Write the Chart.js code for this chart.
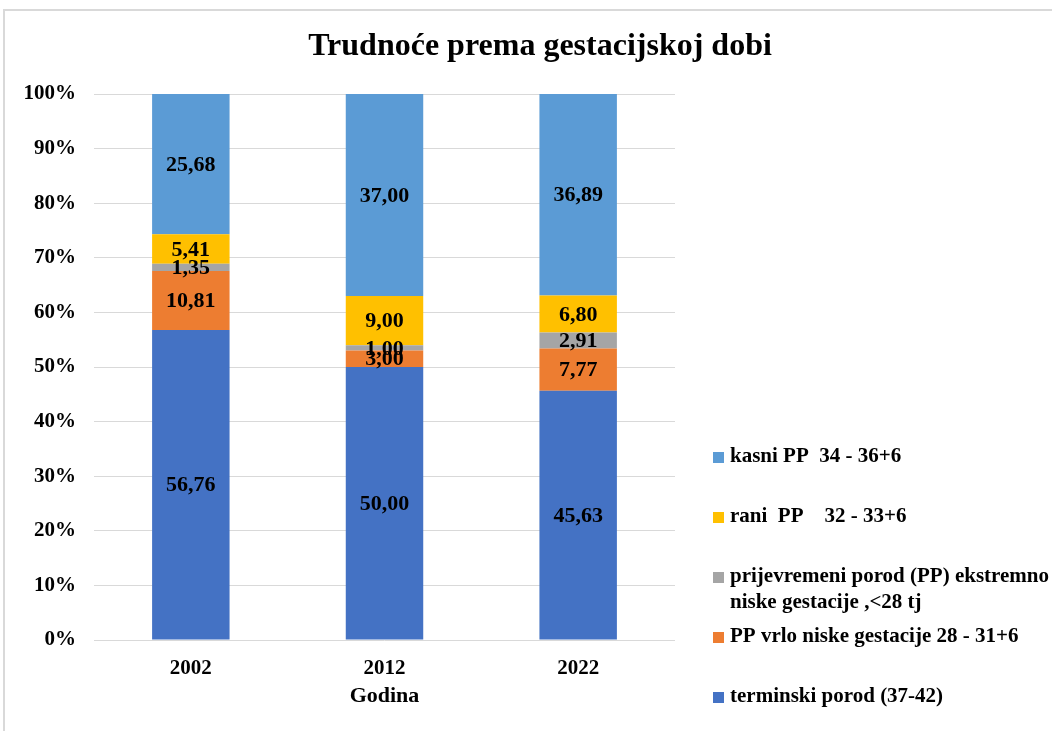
<!DOCTYPE html>
<html>
<head>
<meta charset="utf-8">
<script src="https://cdn.jsdelivr.net/npm/chart.js@4.4.4/dist/chart.umd.min.js"></script>
<style>
  html, body { margin: 0; padding: 0; background: #fff; }
  #wrap { position: relative; width: 1052px; height: 731px; }
</style>
</head>
<body>
<div id="wrap"><canvas id="chart" width="1052" height="731"></canvas></div>
<script>
// Data
const years = ['2002', '2012', '2022'];
const terminski = [56.76, 50.00, 45.63];
const vrloNiske = [10.81, 3.00, 7.77];
const ekstremno = [1.35, 1.00, 2.91];
const rani = [5.41, 9.00, 6.80];
const kasni = [25.68, 37.00, 36.89];
const yTicks = [0, 10, 20, 30, 40, 50, 60, 70, 80, 90, 100];

const FONT = '"Liberation Serif", "Times New Roman", serif';

// Stack order bottom -> top; legend lists them top -> bottom
const series = [
    { label: ['terminski porod (37-42)'], data: terminski, color: '#4472C4' },
    { label: ['PP vrlo niske gestacije 28 - 31+6'], data: vrloNiske, color: '#ED7D31' },
    { label: ['prijevremeni porod (PP) ekstremno', 'niske gestacije ,<28 tj'], data: ekstremno, color: '#A5A5A5' },
    { label: ['rani  PP    32 - 33+6'], data: rani, color: '#FFC000' },
    { label: ['kasni PP  34 - 36+6'], data: kasni, color: '#5B9BD5' }
];

const fmt = v => v.toFixed(2).replace('.', ',');

// Title, frame, value labels and the side legend
const decor = {
    id: 'decor',
    beforeDraw(chart) {
        const ctx = chart.ctx;
        ctx.save();
        ctx.strokeStyle = '#D9D9D9';
        ctx.lineWidth = 2;
        ctx.strokeRect(4, 10, 1100, 800);
        ctx.restore();
    },
    afterDatasetsDraw(chart) {
        const ctx = chart.ctx;
        ctx.save();
        ctx.font = 'bold 22px ' + FONT;
        ctx.fillStyle = '#000';
        ctx.textAlign = 'center';
        ctx.textBaseline = 'middle';
        chart.data.datasets.forEach((ds, i) => {
            chart.getDatasetMeta(i).data.forEach((bar, j) => {
                const mid = (bar.y + bar.base) / 2;
                ctx.fillText(fmt(ds.data[j]), bar.x, mid + 1);
            });
        });
        ctx.restore();
    },
    afterDraw(chart) {
        const ctx = chart.ctx;
        ctx.save();
        ctx.fillStyle = '#000';
        ctx.textBaseline = 'middle';

        ctx.font = 'bold 32px ' + FONT;
        ctx.textAlign = 'center';
        ctx.fillText('Trudnoće prema gestacijskoj dobi', 540, 47);

        // legend
        ctx.font = 'bold 21px ' + FONT;
        ctx.textAlign = 'left';
        const items = series.slice().reverse();
        items.forEach((s, k) => {
            const y = 457 + k * 60;
            ctx.fillStyle = s.color;
            ctx.fillRect(713, y - 5, 11, 11);
            ctx.fillStyle = '#000';
            s.label.forEach((line, n) => ctx.fillText(line, 730, y + n * 26));
        });
        ctx.restore();
    }
};

new Chart(document.getElementById('chart'), {
    type: 'bar',
    data: {
        labels: years,
        datasets: series.map(s => ({
            label: s.label.join(' '),
            data: s.data,
            backgroundColor: s.color,
            borderWidth: 0,
            barPercentage: 0.4,
            categoryPercentage: 1
        }))
    },
    options: {
        responsive: false,
        animation: false,
        layout: { padding: { top: 94, right: 377, bottom: 0, left: 0 } },
        plugins: {
            legend: { display: false },
            title: { display: false },
            tooltip: { enabled: false }
        },
        scales: {
            x: {
                stacked: true,
                grid: { display: false },
                border: { display: false },
                ticks: { color: '#000', font: { family: FONT, size: 21, weight: 'bold' }, padding: 8 },
                title: {
                    display: true,
                    text: 'Godina',
                    color: '#000',
                    font: { family: FONT, size: 22, weight: 'bold' },
                    padding: { top: 4, bottom: 21 }
                },
                afterFit(scale) { scale.height = 91; }
            },
            y: {
                stacked: true,
                min: 0,
                max: 100,
                afterBuildTicks(scale) { scale.ticks = yTicks.map(v => ({ value: v })); },
                grid: { color: '#D9D9D9', lineWidth: 1, drawTicks: false },
                border: { display: false },
                ticks: {
                    color: '#000',
                    font: { family: FONT, size: 21, weight: 'bold' },
                    padding: 18,
                    callback: v => v + '%'
                },
                afterFit(scale) { scale.width = 94; }
            }
        }
    },
    plugins: [decor]
});
</script>
</body>
</html>
